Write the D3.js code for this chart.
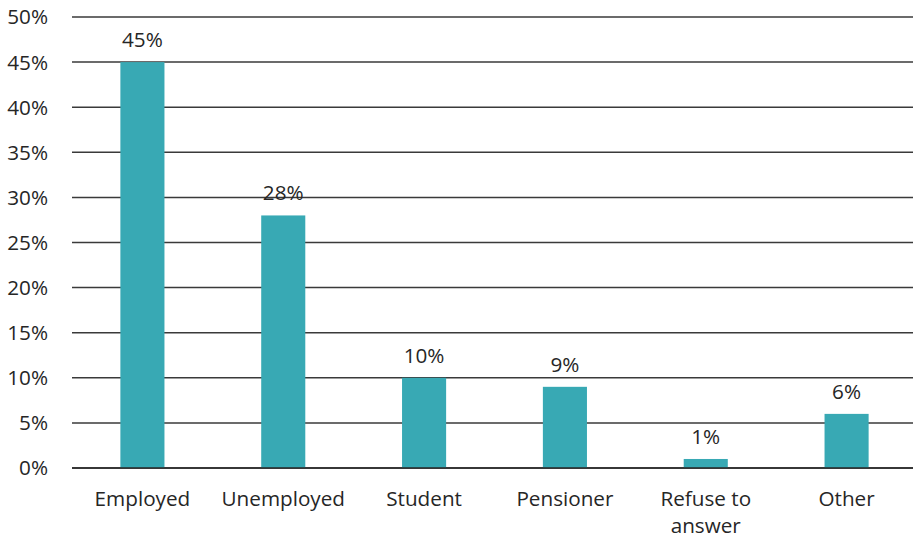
<!DOCTYPE html>
<html>
<head>
<meta charset="utf-8">
<script src="https://cdn.jsdelivr.net/npm/d3@7"></script>
<style>
  html, body { margin: 0; padding: 0; background: #fff; }
  svg { display: block; font-family: "Open Sans", Lato, sans-serif; }
</style>
</head>
<body>
<svg id="chart" width="913" height="540"></svg>
<script>
// Employment status of respondents (share of total)
const categories = ["Employed", "Unemployed", "Student", "Pensioner", "Refuse to answer", "Other"];
const shares = [45, 28, 10, 9, 1, 6];
const yTicks = [0, 5, 10, 15, 20, 25, 30, 35, 40, 45, 50];

const svg = d3.select("#chart");
const plotLeft = 72, plotRight = 917, gridRight = 913, plotTop = 17, plotBottom = 468;
const textColor = "#262626";
const fontSize = 20.7;

const x = d3.scaleBand().domain(categories).range([plotLeft, plotRight]).paddingInner(0.687).paddingOuter(0.3435);
const y = d3.scaleLinear().domain([0, 50]).range([plotBottom, plotTop]);

// horizontal gridlines
svg.append("g").selectAll("line").data(yTicks).join("line")
  .attr("x1", plotLeft).attr("x2", gridRight)
  .attr("y1", d => y(d)).attr("y2", d => y(d))
  .attr("stroke", "#3a3a3a").attr("stroke-width", 1.5);

// y tick labels
svg.append("g").selectAll("text").data(yTicks).join("text")
  .attr("x", 48).attr("y", d => y(d))
  .attr("dy", "0.36em")
  .attr("text-anchor", "end")
  .attr("font-size", fontSize).attr("fill", textColor)
  .text(d => d + "%");

// bars
svg.append("g").selectAll("rect").data(categories).join("rect")
  .attr("x", d => x(d))
  .attr("width", x.bandwidth())
  .attr("y", (d, i) => y(shares[i]))
  .attr("height", (d, i) => y(0) - y(shares[i]))
  .attr("fill", "#38a9b4");

// baseline over bars
svg.append("line")
  .attr("x1", plotLeft).attr("x2", gridRight)
  .attr("y1", y(0)).attr("y2", y(0))
  .attr("stroke", "#262626").attr("stroke-width", 1.5);

// value labels
svg.append("g").selectAll("text").data(categories).join("text")
  .attr("x", d => x(d) + x.bandwidth() / 2)
  .attr("y", (d, i) => y(shares[i]) - 15)
  .attr("text-anchor", "middle")
  .attr("font-size", fontSize).attr("fill", textColor)
  .text((d, i) => shares[i] + "%");

// category labels, wrapped onto two lines where needed
const catLines = { "Refuse to answer": ["Refuse to", "answer"] };
svg.append("g").selectAll("text").data(categories).join("text")
  .attr("x", d => x(d) + x.bandwidth() / 2)
  .attr("y", 506)
  .attr("text-anchor", "middle")
  .attr("font-size", fontSize).attr("fill", textColor)
  .each(function(d) {
    const lines = catLines[d] || [d];
    const t = d3.select(this);
    lines.forEach((ln, k) => {
      t.append("tspan").attr("x", x(d) + x.bandwidth() / 2).attr("dy", k === 0 ? 0 : 27).text(ln);
    });
  });
</script>
</body>
</html>
